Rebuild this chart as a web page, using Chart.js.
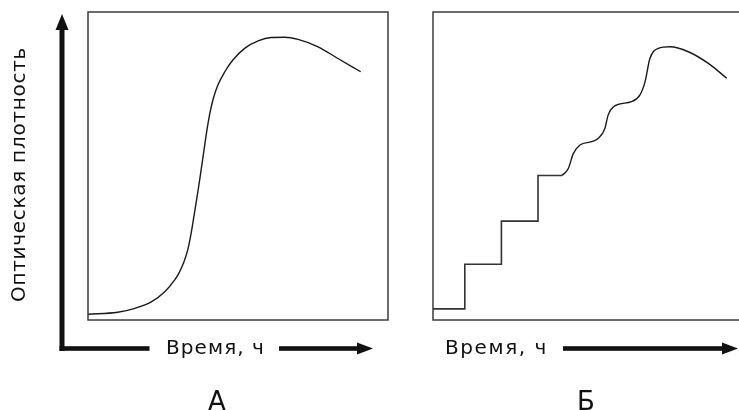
<!DOCTYPE html>
<html lang="ru">
<head>
<meta charset="utf-8">
<title>Оптическая плотность</title>
<script src="https://cdn.jsdelivr.net/npm/chart.js@4/dist/chart.umd.min.js"></script>
<style>
  html, body { margin: 0; padding: 0; background: #fff; }
  #wrap { position: relative; width: 739px; height: 410px; overflow: hidden; }
  #chartA { position: absolute; left: 0; top: 0; }
  #chartB { position: absolute; left: 400px; top: 0; }
</style>
</head>
<body>
<div id="wrap">
  <canvas id="chartA" width="400" height="410"></canvas>
  <canvas id="chartB" width="339" height="410"></canvas>
</div>
<script>
// Данные панели А (время в условных единицах, плотность 0..100)
const timeA = [0, 9.9, 15.6, 21.1, 25.6, 28.9, 30.4, 31.8, 33.2, 34.4, 35.5, 36.6, 37.6, 38.5, 39.2, 39.9, 40.7, 41.8, 43.3, 45.6, 48.3, 52.2, 56.7, 61.1, 65.6, 70, 76.7, 83.3, 90.9];
const densityA = [1.85, 2.5, 3.8, 5.9, 9.2, 13.0, 15.4, 18.4, 22.6, 28.3, 34.8, 41.5, 48.0, 54.0, 58.8, 63.2, 67.5, 72.0, 76.3, 80.6, 84.4, 88.2, 90.6, 91.7, 91.8, 91.1, 88.7, 84.9, 80.6];

// Данные панели Б: ступеньки, затем волнистый рост
const stepTimeB = [0, 10.6, 22.8, 35, 43];
const stepDensityB = [3.6, 18.1, 32.1, 46.9, 46.9];
const waveTimeB = [43, 45.1, 46.8, 49.0, 52.9, 55.1, 57.3, 58.4, 60.7, 66.2, 69.0, 70.7, 72.3, 75.1, 79.0, 85.1, 91.8, 97.9];
const waveDensityB = [46.9, 49.2, 54.1, 56.8, 57.9, 59.0, 62.2, 66.6, 69.6, 70.9, 73.1, 77.4, 84.9, 88.2, 88.7, 87.1, 83.3, 78.5];

// Подписи
const yTitle = 'Оптическая плотность';
const xTitle = 'Время, ч';
const panelA = 'А';
const panelB = 'Б';

const FONT = "'DejaVu Sans', 'Liberation Sans', Arial, sans-serif";
const INK = '#111';

const toPoints = (xs, ys) => xs.map((x, i) => ({ x: x, y: ys[i] }));

// текст с разрядкой под нужную ширину
function spacedText(ctx, text, x, y, width) {
    ctx.letterSpacing = '0px';
    const w = ctx.measureText(text).width;
    const n = [...text].length;
    ctx.letterSpacing = Math.max(0, (width - w) / n).toFixed(2) + 'px';
    ctx.fillText(text, x, y);
    ctx.letterSpacing = '0px';
}

function arrowRight(ctx, x1, x2, y) {
    ctx.fillRect(x1, y - 2.3, x2 - 14 - x1, 4.6);
    ctx.beginPath();
    ctx.moveTo(x2, y);
    ctx.lineTo(x2 - 16, y - 6);
    ctx.lineTo(x2 - 16, y + 6);
    ctx.closePath();
    ctx.fill();
}

// рамка графика и подписи вокруг
const decor = {
    id: 'decor',
    afterDraw(chart, args, opts) {
        const { ctx, chartArea: a } = chart;
        ctx.save();
        ctx.strokeStyle = '#3c3c3c';
        ctx.lineWidth = 1.5;
        ctx.strokeRect(a.left, a.top, a.right - a.left + (opts.openRight ? 20 : 0), a.bottom - a.top);

        ctx.fillStyle = INK;
        ctx.textBaseline = 'alphabetic';
        ctx.textAlign = 'left';

        if (opts.yAxis) {
            // ось Y со стрелкой
            ctx.fillRect(59.5, 28, 5, 323);
            ctx.beginPath();
            ctx.moveTo(62, 14);
            ctx.lineTo(55.5, 30);
            ctx.lineTo(68.5, 30);
            ctx.closePath();
            ctx.fill();
            ctx.fillRect(59.5, 346.2, 90, 4.6);

            ctx.save();
            ctx.font = '20px ' + FONT;
            ctx.translate(25, 302);
            ctx.rotate(-Math.PI / 2);
            spacedText(ctx, yTitle, 0, 0, 255);
            ctx.restore();
        }

        const t = opts.xText;
        ctx.font = '20px ' + FONT;
        spacedText(ctx, xTitle, t.x, 354, t.w);
        arrowRight(ctx, t.arrowFrom, t.arrowTo, 348.5);

        ctx.font = '26px ' + FONT;
        ctx.textAlign = 'center';
        ctx.fillText(opts.label, opts.labelX, 410);
        ctx.restore();
    }
};

const lineStyle = {
    borderColor: '#1a1a1a',
    borderWidth: 1.4,
    pointRadius: 0,
    fill: false
};

function baseOptions(padding, xMax, decorOpts) {
    return {
        responsive: false,
        animation: false,
        layout: { padding: padding },
        plugins: {
            legend: { display: false },
            tooltip: { enabled: false },
            decor: decorOpts
        },
        scales: {
            x: { type: 'linear', min: 0, max: xMax, display: false },
            y: { type: 'linear', min: 0, max: 100, display: false }
        }
    };
}

new Chart(document.getElementById('chartA'), {
    type: 'line',
    data: {
        datasets: [{
            ...lineStyle,
            data: toPoints(timeA, densityA),
            cubicInterpolationMode: 'monotone'
        }]
    },
    options: baseOptions({ left: 88, top: 12, right: 12, bottom: 90 }, 100, {
        yAxis: true,
        openRight: false,
        xText: { x: 166, w: 99, arrowFrom: 279, arrowTo: 373 },
        label: panelA,
        labelX: 217
    }),
    plugins: [decor]
});

new Chart(document.getElementById('chartB'), {
    type: 'line',
    data: {
        datasets: [
            {
                ...lineStyle,
                borderWidth: 1.6,
                borderColor: '#333',
                data: toPoints(stepTimeB, stepDensityB),
                stepped: 'before'
            },
            {
                ...lineStyle,
                data: toPoints(waveTimeB, waveDensityB),
                cubicInterpolationMode: 'monotone'
            }
        ]
    },
    options: baseOptions({ left: 33, top: 12, right: 0, bottom: 90 }, 102, {
        yAxis: false,
        openRight: true,
        xText: { x: 45, w: 103, arrowFrom: 163, arrowTo: 338 },
        label: panelB,
        labelX: 186
    }),
    plugins: [decor]
});
</script>
</body>
</html>
